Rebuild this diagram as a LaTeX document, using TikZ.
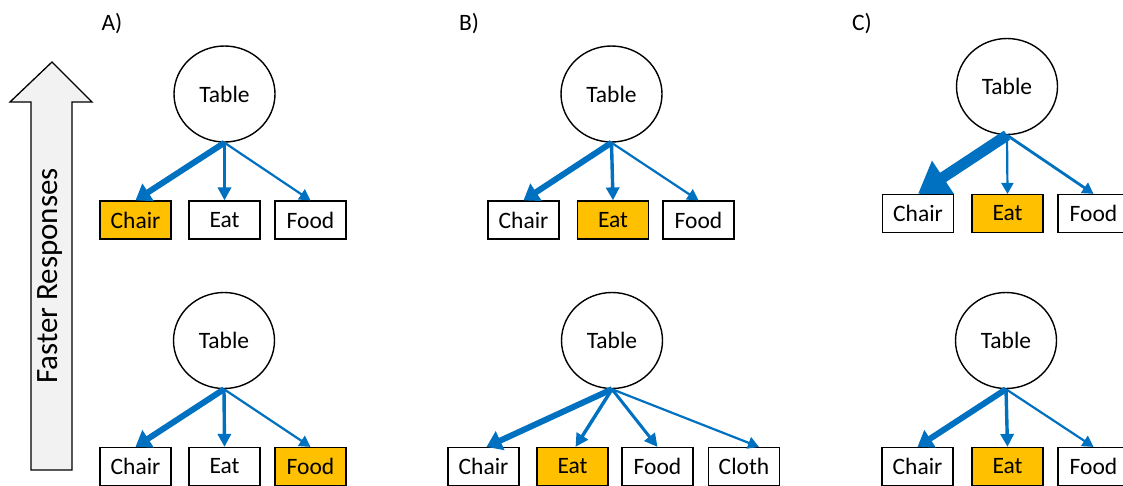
\documentclass[tikz,border=0pt]{standalone}
\usepackage{fontspec}
\setmainfont{Carlito}
\usetikzlibrary{arrows.meta,shapes.geometric}
\definecolor{arrblue}{HTML}{0070C0}
\definecolor{hlorange}{HTML}{FFC000}
\definecolor{biggray}{HTML}{F2F2F2}
\tikzset{
  wordbox/.style={draw=black,line width=1.2pt,minimum width=71pt,minimum height=38pt,inner sep=0pt,font=\fontsize{23.5}{26}\selectfont},
  hlbox/.style={wordbox,fill=hlorange},
  tablenode/.style={draw=black,line width=1.4pt,ellipse,minimum width=101pt,minimum height=96pt,inner sep=0pt,font=\fontsize{23.5}{26}\selectfont},
  panellabel/.style={font=\fontsize{23.5}{26}\selectfont,inner sep=0pt},
  thinarr/.style={draw=arrblue,line width=2.2pt,-{Triangle[length=11pt,width=12pt]}},
  midarr/.style={draw=arrblue,line width=3.4pt,-{Triangle[length=13pt,width=13pt]}},
  thickarr/.style={draw=arrblue,line width=6pt,-{Triangle[length=15pt,width=20pt]}},
  hugearr/.style={draw=arrblue,line width=11pt,-{Triangle[length=30pt,width=38pt]}},
}
\begin{document}
\begin{tikzpicture}[x=1pt,y=-1pt]
\useasboundingbox (0,0) rectangle (1123,485);
% big arrow
\draw[line width=1.3pt,fill=biggray] (52,62) -- (92,102) -- (72,102) -- (72,470) -- (31,470) -- (31,102) -- (10,102) -- cycle;
\node[rotate=90,font=\fontsize{31}{33}\selectfont,inner sep=0pt] (fr) at (50,276) {Faster Responses};
% labels
\node[panellabel] (la) at (112,24) {A)};
\node[panellabel] (lb) at (469,24) {B)};
\node[panellabel] (lc) at (862,24) {C)};
% Panel A top
\node[tablenode] (at) at (224.5,94) {Table};
\node[hlbox] (ac) at (135.5,220) {Chair};
\node[wordbox] (ae) at (224.5,220) {Eat};
\node[wordbox] (af) at (310.5,220) {Food};
\draw[thickarr] (at.south) -- (ac.north);
\draw[midarr] (at.south) -- (ae.north);
\draw[thinarr] (at.south) -- (af.north);
% Panel A bottom
\node[tablenode] (bt) at (224,340.5) {Table};
\node[wordbox] (bc) at (135.5,466.5) {Chair};
\node[wordbox] (be) at (224.5,466.5) {Eat};
\node[hlbox] (bf) at (310.5,466.5) {Food};
\draw[thickarr] (bt.south) -- (bc.north);
\draw[midarr] (bt.south) -- (be.north);
\draw[thinarr] (bt.south) -- (bf.north);
% Panel B top
\node[tablenode] (ct) at (611.5,94) {Table};
\node[wordbox] (cc) at (523.5,220) {Chair};
\node[hlbox] (ce) at (613,220) {Eat};
\node[wordbox] (cf) at (698.5,220) {Food};
\draw[thickarr] (ct.south) -- (cc.north);
\draw[midarr] (ct.south) -- (ce.north);
\draw[thinarr] (ct.south) -- (cf.north);
% Panel B bottom
\node[tablenode] (dt) at (612,340.5) {Table};
\node[wordbox] (dc) at (483.5,466.5) {Chair};
\node[hlbox] (de) at (572.5,466.5) {Eat};
\node[wordbox] (df) at (657.5,466.5) {Food};
\node[wordbox] (dl) at (744,466.5) {Cloth};
\draw[thickarr] (dt.south) -- ([xshift=3pt]dc.north);
\draw[midarr] (dt.south) -- ([xshift=3pt]de.north);
\draw[midarr,line width=3pt] (dt.south) -- (df.north);
\draw[thinarr] (dt.south) -- ([xshift=15pt]dl.north);
% Panel C top
\node[tablenode] (et) at (1007,86.5) {Table};
\node[wordbox] (ec) at (918,213.5) {Chair};
\node[hlbox] (ee) at (1007.5,213.5) {Eat};
\node[wordbox] (ef) at (1093.5,213.5) {Food};
\draw[hugearr] (et.south) -- (ec.north);
\draw[thinarr] (et.south) -- (ee.north);
\draw[thinarr,line width=2.8pt] (et.south) -- (ef.north);
% Panel C bottom
\node[tablenode] (ft) at (1006,340.5) {Table};
\node[wordbox] (fc) at (917.5,466.5) {Chair};
\node[hlbox] (fe) at (1007.5,466.5) {Eat};
\node[wordbox] (ff) at (1093.5,466.5) {Food};
\draw[thickarr] (ft.south) -- (fc.north);
\draw[midarr] (ft.south) -- (fe.north);
\draw[thinarr] (ft.south) -- (ff.north);
\end{tikzpicture}
\end{document}
